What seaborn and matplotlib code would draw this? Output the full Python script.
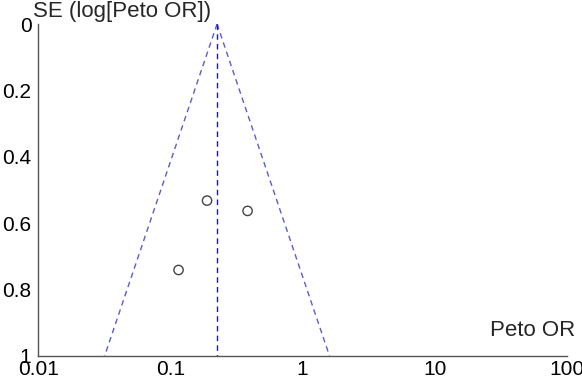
import numpy as np
import pandas as pd
import seaborn as sns
import matplotlib.pyplot as plt

# study estimates
peto_or = [0.189, 0.383, 0.115]
se_log_or = [0.532, 0.563, 0.741]
pooled_or = 0.225

x_ticks = [0.01, 0.1, 1, 10, 100]
x_tick_labels = ["0.01", "0.1", "1", "10", "100"]
y_ticks = [0, 0.2, 0.4, 0.6, 0.8, 1]
y_tick_labels = ["0", "0.2", "0.4", "0.6", "0.8", "1"]

sns.set_style("white")
plt.rcParams['font.family'] = ['Liberation Sans', 'DejaVu Sans']

df = pd.DataFrame({"or": peto_or, "se": se_log_or})

fig = plt.figure(figsize=(5.82, 3.84), dpi=100)
ax = fig.add_axes([0.066, 0.073, 0.908, 0.8645])

# funnel limits (95%)
se_line = np.array([0, 1])
ax.plot(pooled_or * np.exp(-1.96 * se_line), se_line, color="#5c5cd0", ls=(0, (4, 3)), lw=1)
ax.plot(pooled_or * np.exp(1.96 * se_line), se_line, color="#5c5cd0", ls=(0, (4, 3)), lw=1)
ax.plot([pooled_or, pooled_or], [0, 1], color="#1c1ca8", ls=(0, (4, 3)), lw=1)

sns.scatterplot(data=df, x="or", y="se", ax=ax, marker="o", s=45,
                facecolor="none", edgecolor="#444444", linewidth=1, zorder=3)

ax.set_xscale("log")
ax.set_xlim(0.01, 100)
ax.set_ylim(1, 0)
ax.set_xticks(x_ticks)
ax.set_xticklabels(x_tick_labels)
ax.set_yticks(y_ticks)
ax.set_yticklabels(y_tick_labels)
ax.minorticks_off()
ax.tick_params(direction="in", length=5, width=0.8, colors="#555555",
               labelcolor="black", labelsize=15)
ax.tick_params(axis="x", pad=3)
ax.tick_params(axis="y", pad=5)
ax.set_xlabel("")
ax.set_ylabel("")

for s in ["top", "right"]:
    ax.spines[s].set_visible(False)
for s in ["left", "bottom"]:
    ax.spines[s].set_color("#555555")
    ax.spines[s].set_linewidth(1)

fig.text(33 / 582, 1 - 11 / 384, "SE (log[Peto OR])", fontsize=16, va="center", ha="left")
fig.text(575 / 582, 1 - 330 / 384, "Peto OR", fontsize=16, va="center", ha="right")

fig.savefig("out.png", dpi=100)
